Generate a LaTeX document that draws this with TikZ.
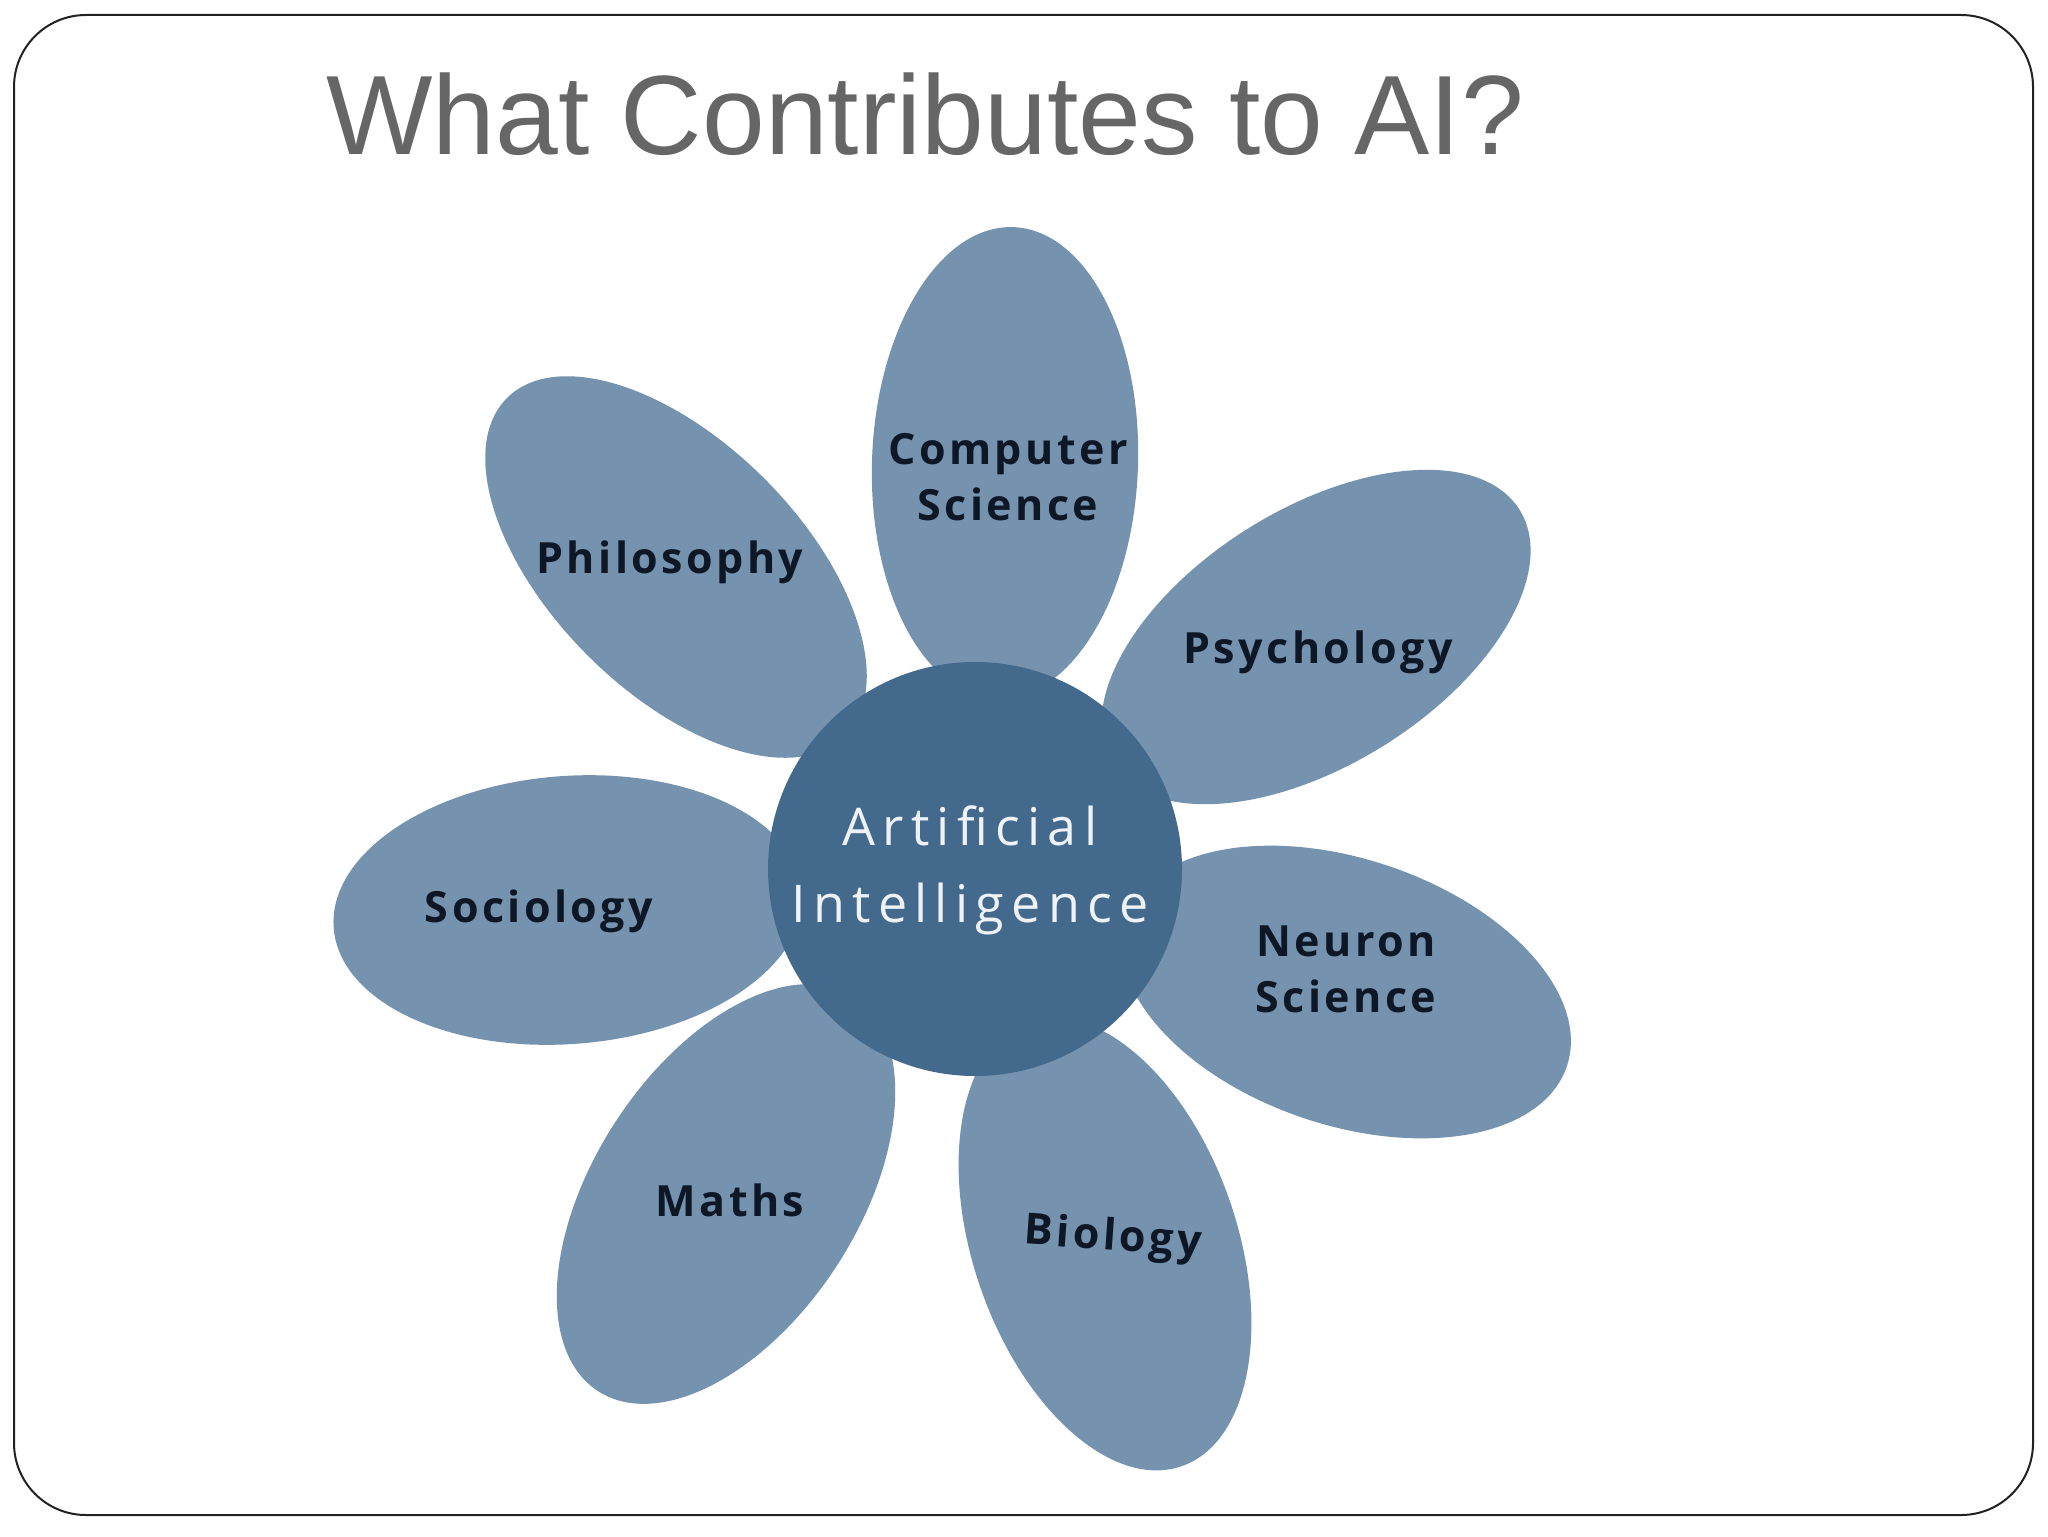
\documentclass[tikz,border=0pt]{standalone}
\usepackage{fontspec}
\setmainfont{Liberation Sans}
\newfontfamily\petalfont[LetterSpace=8]{Open Sans}
\newfontfamily\aifont[LetterSpace=14]{Open Sans}
\usetikzlibrary{shapes.geometric}
\definecolor{petalcol}{HTML}{7592AE}
\definecolor{corecol}{HTML}{43698C}
\definecolor{labelcol}{HTML}{0E1726}
\definecolor{titlecol}{HTML}{666666}
\definecolor{aicol}{HTML}{EEF2F6}
\definecolor{framecol}{HTML}{222222}
\begin{document}
\begin{tikzpicture}[x=0.5pt,y=-0.5pt,
  petal/.style={ellipse, fill=petalcol, draw=none, inner sep=0pt},
  core/.style={circle, fill=corecol, draw=none, inner sep=0pt, minimum size=207pt},
  plabel/.style={text=labelcol, inner sep=0pt, font=\petalfont\bfseries\fontsize{21.5}{28}\selectfont, align=center},
  ailabel/.style={text=aicol, inner sep=0pt, font=\aifont\fontsize{26}{38.5}\selectfont, align=center},
  titlestyle/.style={text=titlecol, inner sep=0pt, font=\fontsize{56.4}{68}\selectfont}]
\useasboundingbox (0,0) rectangle (2048,1536);
\fill[white] (0,0) rectangle (2048,1536);
\draw[framecol, line width=1pt, rounded corners=36pt] (14,15) rectangle (2033,1515);

\node[titlestyle, anchor=base west] (title) at (326,155) {What Contributes to AI?};

% petals
\node[petal, minimum width=240pt, minimum height=128pt, rotate=32] (ppsy) at (1316,637) {};
\node[petal, minimum width=236pt, minimum height=133pt, rotate=88] (pcs) at (1005,463) {};
\node[petal, minimum width=239pt, minimum height=125pt, rotate=135] (pphil) at (676,567) {};
\node[petal, minimum width=235pt, minimum height=134pt, rotate=184.4] (psoc) at (568,910) {};
\node[petal, minimum width=235pt, minimum height=132pt, rotate=237] (pmath) at (726,1194) {};
\node[petal, minimum width=235pt, minimum height=132pt, rotate=289] (pbio) at (1105,1244) {};
\node[petal, minimum width=233pt, minimum height=133pt, rotate=341.4] (pneu) at (1346,992) {};

% centre
\node[core] (ai) at (975,869) {};

% labels
\node[plabel, anchor=base] (lphil) at (670,573) {Philosophy};
\node[plabel, anchor=base] (lpsy) at (1318,663) {Psychology};
\node[plabel, anchor=base] (lsoc) at (539,922) {Sociology};
\node[plabel, anchor=base] (lmath) at (730,1216) {Maths};
\node[plabel, anchor=base, rotate=-4] (lbio) at (1112,1250) {Biology};
\node[plabel, anchor=center] (lcs) at (1008,477) {Computer\\Science};
\node[plabel, anchor=center] (lneu) at (1346,969) {Neuron\\Science};
\node[ailabel, anchor=center] (lai) at (970,870) {Artificial\\Intelligence};
\end{tikzpicture}
\end{document}
